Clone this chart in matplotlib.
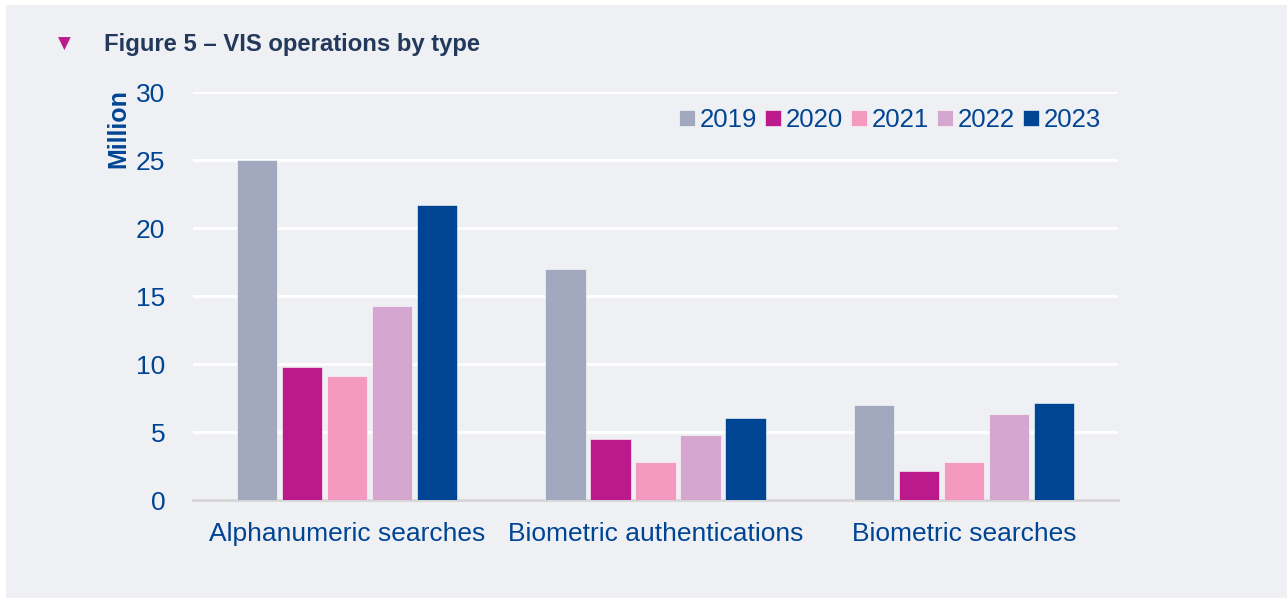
import numpy as np
import matplotlib.pyplot as plt
from matplotlib.patches import Rectangle

categories = ['Alphanumeric searches', 'Biometric authentications', 'Biometric searches']
years = ['2019', '2020', '2021', '2022', '2023']
v2019 = [25.0, 17.0, 7.0]
v2020 = [9.8, 4.5, 2.1]
v2021 = [9.1, 2.8, 2.8]
v2022 = [14.3, 4.8, 6.3]
v2023 = [21.7, 6.0, 7.1]
series = [v2019, v2020, v2021, v2022, v2023]
colors = ['#A2A9BE', '#BC1A8C', '#F49AC1', '#D4A6D0', '#004494']

bg = '#EFF0F4'
blue = '#004494'

plt.rcParams['font.family'] = ['Liberation Sans', 'DejaVu Sans']

fig = plt.figure(figsize=(12.87, 5.98), dpi=100, facecolor='white')
# light panel behind everything
fig.patches.append(Rectangle((6 / 1287, 0), 1, 1 - 5 / 598, transform=fig.transFigure,
                             facecolor=bg, edgecolor='none', zorder=-10))

ax = fig.add_axes([193 / 1287, 1 - 500 / 598, 925 / 1287, 408 / 598])
ax.set_facecolor(bg)

x = np.arange(len(categories))
width = 0.13
step = 0.146
for i, (vals, col, yr) in enumerate(zip(series, colors, years)):
    ax.bar(x + (i - 2) * step, vals, width, color=col, label=yr, zorder=3,
           edgecolor='white', linewidth=0.4)

ax.set_xlim(-0.5, 2.5)
ax.set_ylim(0, 30)
ax.set_yticks(range(0, 31, 5))
ax.yaxis.grid(True, color='white', linewidth=2, zorder=0)
ax.set_axisbelow(True)
for s in ['top', 'right', 'left']:
    ax.spines[s].set_visible(False)
ax.spines['bottom'].set_color('#D6D6D6')
ax.spines['bottom'].set_linewidth(2)
ax.tick_params(axis='both', length=0, labelsize=19, colors=blue)
ax.tick_params(axis='y', pad=20)
ax.tick_params(axis='x', pad=16)
ax.set_xticks(x)
ax.set_xticklabels(categories)

fig.text(118 / 1287, 1 - 129 / 598, 'Million', rotation=90, ha='center', va='center',
         fontsize=18, fontweight='bold', color=blue)

fig.text(104 / 1287, 1 - 44 / 598, 'Figure 5 \u2013 VIS operations by type', ha='left',
         va='center', fontsize=17.2, fontweight='bold', color='#23395B')
fig.text(64 / 1287, 1 - 44 / 598, '\u25BC', ha='center', va='center', fontsize=12,
         color='#BC1A8C', family=['DejaVu Sans'])

ax.legend(loc='center right', bbox_to_anchor=(1101 / 1287, 1 - 120 / 598),
          bbox_transform=fig.transFigure, ncol=5, frameon=False, fontsize=18.5,
          handlelength=0.6, handleheight=0.6, handletextpad=0.2, columnspacing=0.32,
          labelcolor=blue, borderpad=0, borderaxespad=0)

fig.savefig('out.png', dpi=100, facecolor=fig.get_facecolor())
